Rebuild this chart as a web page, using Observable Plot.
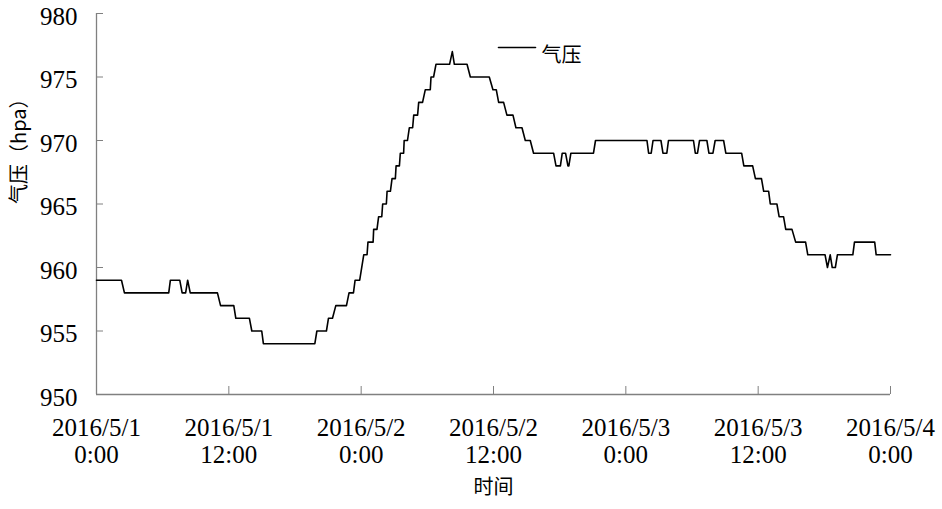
<!DOCTYPE html>
<html><head><meta charset="utf-8">
<script src="https://cdn.jsdelivr.net/npm/d3@7"></script>
<script src="https://cdn.jsdelivr.net/npm/@observablehq/plot@0.6"></script>
<style>body{margin:0;background:#fff;}
.ya text{font-family:"Liberation Serif" !important;}
.xa text{font-family:"Liberation Serif" !important;}
</style>
</head><body><div id="chart"></div>
<script>
// vertices of the pressure trace (time, hPa)
const times = [
"2016-05-01 00:00","2016-05-01 02:16","2016-05-01 02:32","2016-05-01 06:33","2016-05-01 06:42","2016-05-01 07:33","2016-05-01 07:46","2016-05-01 08:05","2016-05-01 08:16","2016-05-01 08:30",
"2016-05-01 10:58","2016-05-01 11:15","2016-05-01 12:27","2016-05-01 12:38","2016-05-01 13:52","2016-05-01 14:05","2016-05-01 14:59","2016-05-01 15:08","2016-05-01 19:48","2016-05-01 19:59",
"2016-05-01 20:51","2016-05-01 21:02","2016-05-01 21:24","2016-05-01 21:42","2016-05-01 22:40","2016-05-01 22:54","2016-05-01 23:18","2016-05-01 23:27","2016-05-01 23:52",
"2016-05-02 00:14","2016-05-02 00:32","2016-05-02 00:37","2016-05-02 01:05","2016-05-02 01:08","2016-05-02 01:26","2016-05-02 01:35","2016-05-02 01:52","2016-05-02 01:57","2016-05-02 02:17",
"2016-05-02 02:21","2016-05-02 02:39","2016-05-02 02:48","2016-05-02 03:06","2016-05-02 03:10","2016-05-02 03:28","2016-05-02 03:33","2016-05-02 03:51","2016-05-02 03:54","2016-05-02 04:12",
"2016-05-02 04:22","2016-05-02 04:40","2016-05-02 04:46","2016-05-02 05:07","2016-05-02 05:13","2016-05-02 05:34","2016-05-02 05:49","2016-05-02 06:16","2016-05-02 06:20","2016-05-02 06:34",
"2016-05-02 06:47","2016-05-02 08:01","2016-05-02 08:16","2016-05-02 08:27","2016-05-02 09:36","2016-05-02 09:54","2016-05-02 11:37","2016-05-02 11:57","2016-05-02 12:15","2016-05-02 12:28",
"2016-05-02 12:55","2016-05-02 13:13","2016-05-02 13:46","2016-05-02 14:02","2016-05-02 14:35","2016-05-02 14:53","2016-05-02 15:20","2016-05-02 15:38","2016-05-02 17:27","2016-05-02 17:40",
"2016-05-02 18:04","2016-05-02 18:14","2016-05-02 18:32","2016-05-02 18:45","2016-05-02 18:50","2016-05-02 19:01","2016-05-02 21:04","2016-05-02 21:15",
"2016-05-03 01:55","2016-05-03 02:04","2016-05-03 02:18","2016-05-03 02:28","2016-05-03 03:11","2016-05-03 03:22","2016-05-03 03:43","2016-05-03 03:52","2016-05-03 06:08","2016-05-03 06:18",
"2016-05-03 06:30","2016-05-03 06:41","2016-05-03 07:21","2016-05-03 07:32","2016-05-03 07:54","2016-05-03 08:06","2016-05-03 08:52","2016-05-03 09:04","2016-05-03 10:30","2016-05-03 10:42",
"2016-05-03 11:30","2016-05-03 11:45","2016-05-03 12:18","2016-05-03 12:30","2016-05-03 12:57","2016-05-03 13:06","2016-05-03 13:42","2016-05-03 13:54","2016-05-03 14:18","2016-05-03 14:30",
"2016-05-03 15:04","2016-05-03 15:24","2016-05-03 16:18","2016-05-03 16:30","2016-05-03 18:04","2016-05-03 18:17","2016-05-03 18:32","2016-05-03 18:43","2016-05-03 19:00","2016-05-03 19:11",
"2016-05-03 20:35","2016-05-03 20:44","2016-05-03 22:34","2016-05-03 22:42",
"2016-05-04 00:00"
];
const pressure = [
959,959,958,958,959,959,958,958,959,958,
958,957,957,956,956,955,955,954,954,955,
955,956,956,957,957,958,958,959,959,
961,961,962,962,963,963,964,964,965,965,
966,966,967,967,968,968,969,969,970,970,
971,971,972,972,973,973,974,974,975,975,
976,976,977,976,976,975,975,974,974,973,
973,972,972,971,971,970,970,969,969,968,
968,969,969,968,968,969,969,970,
970,969,969,970,970,969,969,970,970,969,
969,970,970,969,969,970,970,969,969,968,
968,967,967,966,966,965,965,964,964,963,
963,962,962,961,961,960,961,960,960,961,
961,962,962,961,
961
];
const yTicks = [950, 955, 960, 965, 970, 975, 980];
const xTicks = ["2016-05-01 00:00","2016-05-01 12:00","2016-05-02 00:00","2016-05-02 12:00","2016-05-03 00:00","2016-05-03 12:00","2016-05-04 00:00"];
const xTickLabels = ["2016/5/1\n0:00","2016/5/1\n12:00","2016/5/2\n0:00","2016/5/2\n12:00","2016/5/3\n0:00","2016/5/3\n12:00","2016/5/4\n0:00"];
const seriesName = "气压";
const yTitle = "气压（hpa）";
const xTitle = "时间";

const parse = s => new Date(s.replace(" ", "T") + ":00Z");
const data = times.map((t, i) => ({t: parse(t), p: pressure[i]}));
const tickDates = xTicks.map(parse);
const labelOf = new Map(tickDates.map((d, i) => [+d, xTickLabels[i]]));
const axisColor = "#808080";
const cjk = "Noto Sans CJK SC";
const lineShape = {draw(ctx, l) { ctx.moveTo(0, 0); ctx.lineTo(0, -l); }};

const chart = Plot.plot({
  width: 942, height: 509,
  marginLeft: 96, marginRight: 52, marginTop: 13, marginBottom: 115,
  style: {fontSize: "25px"},
  x: {type: "utc", domain: [tickDates[0], tickDates[tickDates.length - 1]]},
  y: {domain: [yTicks[0], yTicks[yTicks.length - 1]]},
  marks: [
    Plot.ruleY([yTicks[0]], {stroke: axisColor, strokeWidth: 1.3}),
    Plot.ruleX([tickDates[0]], {stroke: axisColor, strokeWidth: 1.3}),
    Plot.axisY(yTicks, {tickSize: -7, tickPadding: 26, tickFormat: () => "", stroke: axisColor, label: null}),
    Plot.axisY(yTicks, {className: "ya", tickSize: 0, tickPadding: 19, dy: 3, fontSize: 25, label: null}),
    Plot.axisX(tickDates, {className: "xa", tickSize: -8, tickPadding: 30, tickFormat: d => labelOf.get(+d), lineHeight: 1.08, stroke: axisColor, fontSize: 25, label: null}),
    Plot.line(data, {x: "t", y: "p", stroke: "#000", strokeWidth: 1.6}),
    Plot.text([yTitle], {text: d => d, frameAnchor: "left", dx: -77, rotate: -90, fontSize: 20, fontFamily: cjk, fill: "#000"}),
    Plot.text([xTitle], {text: d => d, frameAnchor: "bottom", dy: 99, fontSize: 20, fontFamily: cjk, fill: "#000"}),
    Plot.vector([seriesName], {frameAnchor: "top-left", dx: 402, dy: 34, rotate: 90, length: 37, anchor: "start", shape: lineShape, stroke: "#000", strokeWidth: 1.6}),
    Plot.text([seriesName], {text: d => d, frameAnchor: "top-left", dx: 445, dy: 34, textAnchor: "start", fontSize: 20, fontFamily: cjk, fill: "#000"})
  ]
});
document.getElementById("chart").append(chart);
</script>
</body></html>
